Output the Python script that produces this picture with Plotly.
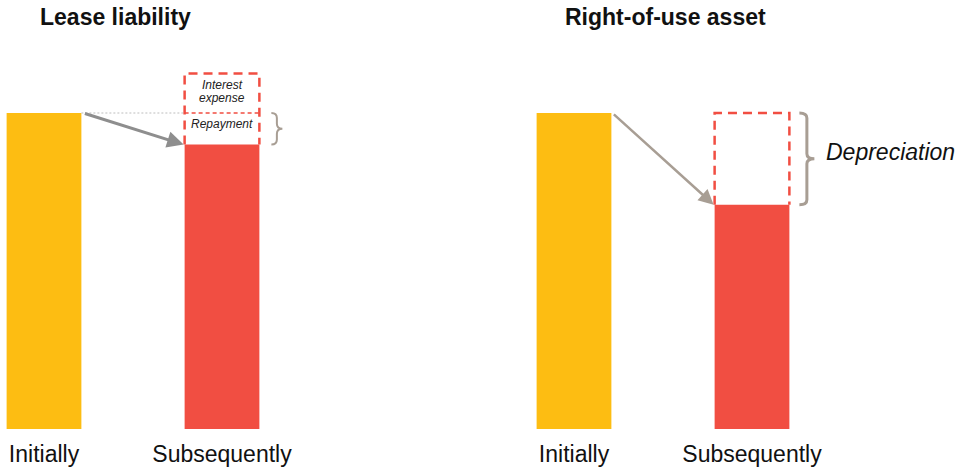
import plotly.graph_objects as go

# ---------------- data ----------------
categories = ["Initially", "Subsequently"]
lease_values = [100, 90]          # lease liability: initial, after first period
lease_interest_top = 112.5        # liability + interest expense (before repayment)
rou_values = [100, 71]            # right-of-use asset: initial, after depreciation
titles = ["Lease liability", "Right-of-use asset"]
lease_box_labels = ["Interest<br>expense", "Repayment"]
rou_box_label = "Depreciation"

# ---------------- styles ----------------
YELLOW = "#FDBD12"
RED = "#F14E42"
GREY_ARROW = "#8E8E8E"
TAN = "#A89E94"
FONT = "Liberation Sans, Arial, Helvetica, sans-serif"

W, H = 958, 471
M_B = 42
PLOT_H = H - M_B
Y_MAX = 135.76
BAR_W = 0.42
PX_PER_X = 178.0
LEFT_RANGE = [-44 / PX_PER_X, (479 - 44) / PX_PER_X]
RIGHT_RANGE = [-(574 - 479) / PX_PER_X, (958 - 574) / PX_PER_X]
PX_PER_Y = PLOT_H / Y_MAX


def dx(px):
    return px / PX_PER_X


def dy(px):
    return px / PX_PER_Y


xpos = list(range(len(categories)))

fig = go.Figure()
fig.add_trace(go.Bar(x=xpos, y=lease_values, width=BAR_W,
                     marker=dict(color=[YELLOW, RED], line=dict(width=0)),
                     xaxis="x", yaxis="y", hoverinfo="skip", showlegend=False))
fig.add_trace(go.Bar(x=xpos, y=rou_values, width=BAR_W,
                     marker=dict(color=[YELLOW, RED], line=dict(width=0)),
                     xaxis="x2", yaxis="y", hoverinfo="skip", showlegend=False))

shapes = []
annotations = []


def open_box(xref, xc, ybot, ytop):
    """Dashed outline with no bottom edge (sits on top of the bar)."""
    xl, xr = xc - BAR_W / 2, xc + BAR_W / 2
    path = f"M {xl},{ybot} L {xl},{ytop} L {xr},{ytop} L {xr},{ybot}"
    return dict(type="path", xref=xref, yref="y", path=path,
                line=dict(color=RED, width=2.5, dash="9px,6px"))


def brace(xref, x0, ytop, ybot, wpx, col, lw):
    w = dx(wpx)
    r = dy(5)
    xm = x0 + w * 0.5
    ym = (ytop + ybot) / 2
    path = (f"M {x0},{ytop} Q {xm},{ytop} {xm},{ytop - r} "
            f"L {xm},{ym + r} Q {xm},{ym} {x0 + w},{ym} "
            f"Q {xm},{ym} {xm},{ym - r} L {xm},{ybot + r} "
            f"Q {xm},{ybot} {x0},{ybot}")
    return dict(type="path", xref=xref, yref="y", path=path,
                line=dict(color=col, width=lw))


# ---- Lease liability panel ----
x1 = xpos[1]
# dotted guide line at initial level
shapes.append(dict(type="line", xref="x", yref="y",
                   x0=xpos[0] + BAR_W / 2, x1=x1 - BAR_W / 2,
                   y0=lease_values[0], y1=lease_values[0],
                   line=dict(color="#BDBDBD", width=1, dash="2px,2px")))
shapes.append(open_box("x", x1, lease_values[1], lease_interest_top))
# inner separator
shapes.append(dict(type="line", xref="x", yref="y",
                   x0=x1 - BAR_W / 2, x1=x1 + BAR_W / 2,
                   y0=lease_values[0], y1=lease_values[0],
                   line=dict(color=RED, width=1.5, dash="4px,3px")))
shapes.append(brace("x", x1 + BAR_W / 2 + dx(12), lease_values[0], lease_values[1], 11, TAN, 2))

interest_lines = lease_box_labels[0].split("<br>")
mid_interest = (lease_values[0] + lease_interest_top) / 2
for i, line in enumerate(interest_lines):
    annotations.append(dict(xref="x", yref="y", x=x1, y=mid_interest,
                            text=line, showarrow=False,
                            font=dict(family=FONT, size=12, color="#222", style="italic"),
                            yshift=8 - 13 * i))
annotations.append(dict(xref="x", yref="y", x=x1,
                        y=(lease_values[0] + lease_values[1]) / 2,
                        text=lease_box_labels[1], showarrow=False,
                        font=dict(family=FONT, size=12, color="#222", style="italic"),
                        yshift=5))
annotations.append(dict(xref="x", yref="y", axref="x", ayref="y",
                        x=x1 - BAR_W / 2 - dx(1), y=lease_values[1],
                        ax=xpos[0] + BAR_W / 2 + dx(2), ay=lease_values[0],
                        showarrow=True, arrowhead=2, arrowsize=1.1, arrowwidth=3,
                        arrowcolor=GREY_ARROW, standoff=0, text=""))

# ---- Right-of-use panel ----
shapes.append(open_box("x2", x1, rou_values[1], rou_values[0]))
shapes.append(brace("x2", x1 + BAR_W / 2 + dx(10), rou_values[0], rou_values[1], 15, TAN, 3))
annotations.append(dict(xref="x2", yref="y", x=x1 + BAR_W / 2 + dx(35),
                        y=(rou_values[0] + rou_values[1]) / 2,
                        text=rou_box_label, showarrow=False, xanchor="left",
                        font=dict(family=FONT, size=23, color="#111", style="italic"),
                        yshift=7))
annotations.append(dict(xref="x2", yref="y", axref="x2", ayref="y",
                        x=x1 - BAR_W / 2 - dx(1), y=rou_values[1],
                        ax=xpos[0] + BAR_W / 2 + dx(1), ay=rou_values[0],
                        showarrow=True, arrowhead=2, arrowsize=1.2, arrowwidth=2.5,
                        arrowcolor=TAN, standoff=0, text=""))

# ---- titles ----
for t, xp in zip(titles, [38, 563]):
    annotations.append(dict(xref="paper", yref="paper", x=xp / W, y=1 - 17 / PLOT_H,
                            xanchor="left", yanchor="middle", text=t, showarrow=False,
                            font=dict(family=FONT, size=23, color="#111", weight=700)))

axis_common = dict(tickvals=xpos, ticktext=categories, showgrid=False, zeroline=False,
                   showline=False, ticks="", fixedrange=True, ticklabelstandoff=9,
                   tickfont=dict(family=FONT, size=23, color="#111"))

fig.update_layout(
    width=W, height=H,
    margin=dict(l=0, r=0, t=0, b=M_B, pad=0),
    paper_bgcolor="white", plot_bgcolor="white",
    xaxis=dict(domain=[0, 0.5], range=LEFT_RANGE, anchor="y", **axis_common),
    xaxis2=dict(domain=[0.5, 1], range=RIGHT_RANGE, anchor="y", **axis_common),
    yaxis=dict(range=[0, Y_MAX], domain=[0, 1], visible=False, fixedrange=True),
    shapes=shapes, annotations=annotations,
    showlegend=False,
)

fig.write_html("out.html")
